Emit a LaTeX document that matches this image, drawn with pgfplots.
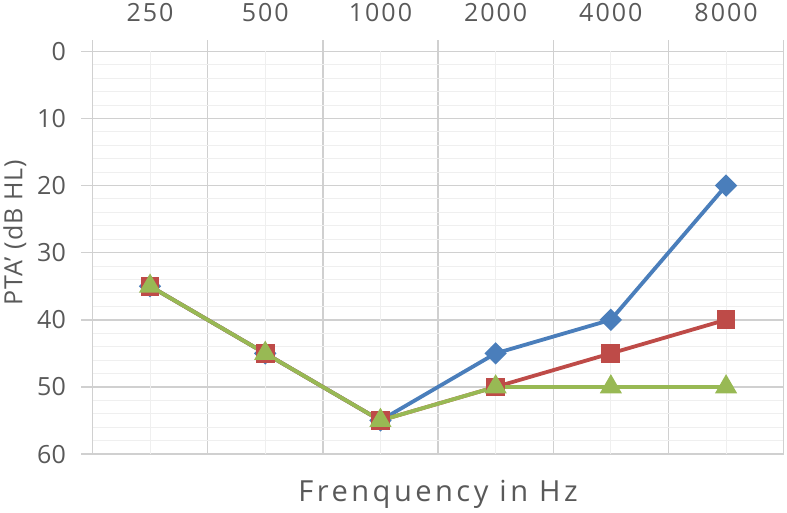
\documentclass[border=0pt]{standalone}
\usepackage{fontspec}
\setmainfont{Open Sans}
\usepackage{pgfplots}
\pgfplotsset{compat=1.18}
\definecolor{txt}{HTML}{595959}
\definecolor{gridmaj}{HTML}{D0D0D0}
\definecolor{gridmin}{HTML}{EFEFEF}
\definecolor{sblue}{HTML}{4A7EBB}
\definecolor{sred}{HTML}{BE4B48}
\definecolor{sgreen}{HTML}{98B954}

\begin{document}
\begin{tikzpicture}
\begin{axis}[
    scale only axis,
    width=690pt, height=402pt,
    xmin=-0.5, xmax=5.5,
    ymin=0, ymax=60, y dir=reverse,
    % category boundaries: darker grid lines with outward ticks on top
    xtick={-0.5,0.5,1.5,2.5,3.5,4.5,5.5},
    xticklabels={},
    % category centres: light grid lines carrying the labels
    extra x ticks={0,1,2,3,4,5},
    extra x tick labels={250,500,1000,2000,4000,8000},
    extra x tick style={
        major x grid style={gridmin, line width=1pt},
        major grid style={gridmin, line width=1pt},
        major tick length=0pt,
        tick style={draw=none},
    },
    xticklabel pos=upper,
    xtick pos=upper,
    ytick pos=left,
    ytick={0,10,...,60},
    minor ytick={2,4,...,58},
    xmajorgrids, ymajorgrids, yminorgrids,
    major x grid style={gridmaj, line width=1.4pt},
    major y grid style={gridmaj, line width=1.4pt},
    minor y grid style={gridmin, line width=1pt},
    axis line style={gridmaj, line width=1.4pt},
    tick align=outside,
    major tick length=11pt,
    major tick style={gridmaj, line width=1.4pt},
    minor y tick style={draw=none},
    /pgf/number format/assume math mode=true,
    tick label style={font=\fontsize{25}{28}\selectfont, text=txt},
    xticklabel style={font=\fontsize{25}{28}\selectfont\addfontfeature{LetterSpace=8}, yshift=26pt},
    yticklabel style={xshift=-12pt},
    xlabel={\addfontfeature{LetterSpace=12}Frenquency in Hz},
    xlabel style={font=\fontsize{29}{32}\selectfont, text=txt, at={(axis description cs:0.5,0)}, anchor=north, yshift=-23pt},
    ylabel={\addfontfeature{LetterSpace=4}PTA' (dB HL)},
    ylabel style={font=\fontsize{25}{28}\selectfont, text=txt, yshift=4pt, xshift=20pt},
    every axis plot/.append style={line width=3.8pt},
]
\addplot[sblue, mark=square*, mark options={rotate=45}, mark size=6pt]
    coordinates {(0,35) (1,45) (2,55) (3,45) (4,40) (5,20)};
\addplot[sred, mark=square*, mark size=7.5pt]
    coordinates {(0,35) (1,45) (2,55) (3,50) (4,45) (5,40)};
\addplot[sgreen, mark=triangle*, mark size=9pt]
    coordinates {(0,35) (1,45) (2,55) (3,50) (4,50) (5,50)};
\end{axis}
\end{tikzpicture}
\end{document}
